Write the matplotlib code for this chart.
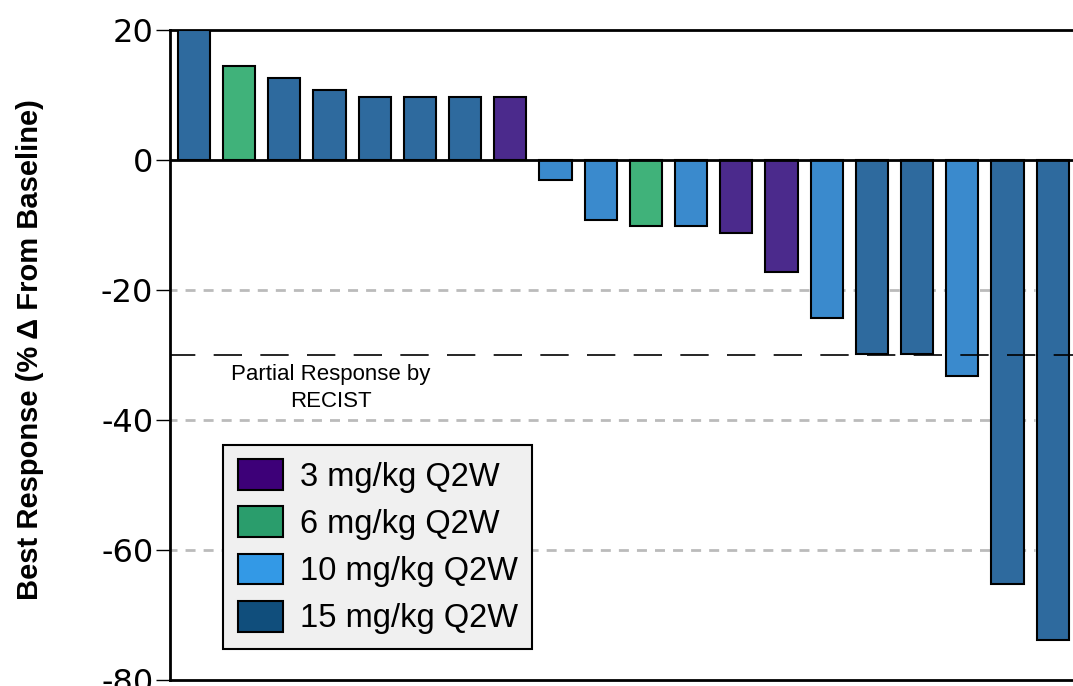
import matplotlib
matplotlib.use('Agg')
import matplotlib.pyplot as plt
from matplotlib.patches import Patch
import numpy as np

# best response per patient, sorted
values = [20.0, 14.5, 12.6, 10.8, 9.7, 9.7, 9.7, 9.7,
          -3.1, -9.2, -10.2, -10.2, -11.2, -17.2, -24.3,
          -29.8, -29.8, -33.2, -65.2, -73.8]
doses = ['15', '6', '15', '15', '15', '15', '15', '3',
         '10', '10', '6', '10', '3', '3', '10',
         '15', '15', '10', '15', '15']

bar_colors = {'3': '#4b2a8c', '6': '#40b27a', '10': '#3a8acd', '15': '#2e6a9e'}
legend_colors = {'3': '#3d0078', '6': '#2a9d6c', '10': '#3399e6', '15': '#104e7c'}
legend_labels = ['3 mg/kg Q2W', '6 mg/kg Q2W', '10 mg/kg Q2W', '15 mg/kg Q2W']
yticks = [20, 0, -20, -40, -60, -80]

fig = plt.figure(figsize=(10.73, 6.86), dpi=100)
ax = fig.add_axes([0.1584, 0.00875, 0.8416, 0.9475])

x = np.arange(len(values))
ax.bar(x, values, width=0.71, color=[bar_colors[d] for d in doses],
       edgecolor='black', linewidth=1.5, zorder=3)

# grid lines
for g in [-20, -40, -60]:
    ax.hlines(g, -0.6, 18.6, colors='#bbbbbb', linestyles=(0, (3.6, 2.9)),
              linewidth=2, zorder=1)
ax.axhline(0, color='black', linewidth=2, zorder=4)
ax.hlines(-30, -0.6, 19.5, colors='black', linestyles=(0, (17, 11)),
          linewidth=1.2, zorder=5)

ax.text(3.03, -35.1, 'Partial Response by\nRECIST', ha='center', va='center',
        fontsize=16, family='Liberation Sans', linespacing=1.4)

ax.set_xlim(-0.53, 19.45)
ax.set_ylim(-80, 20)
ax.set_yticks(yticks)
ax.set_yticklabels([str(t) for t in yticks], fontsize=23, family='DejaVu Sans')
ax.set_xticks([])
ax.tick_params(axis='y', length=10, width=1, direction='out', pad=2)
for s in ['left', 'top', 'bottom']:
    ax.spines[s].set_linewidth(2)
ax.spines['right'].set_visible(False)

fig.text(0.028, 0.49, 'Best Response (% \u0394 From Baseline)', rotation=90,
         ha='center', va='center', fontsize=21, fontweight='bold',
         family='Liberation Sans')

handles = [Patch(facecolor=legend_colors[d], edgecolor='black', linewidth=1.5)
           for d in ['3', '6', '10', '15']]
leg = ax.legend(handles, legend_labels, loc='lower left',
                bbox_to_anchor=(0.0587, 0.0477), borderaxespad=0,
                prop={'family': 'Liberation Sans', 'size': 23.5},
                fancybox=False, framealpha=1, facecolor='#f0f0f0', edgecolor='black',
                handlelength=1.4, handleheight=1.07, labelspacing=0.42,
                handletextpad=0.5, borderpad=0.45)
leg.get_frame().set_linewidth(1.5)
leg.set_zorder(6)

fig.savefig('out.png', dpi=100)
